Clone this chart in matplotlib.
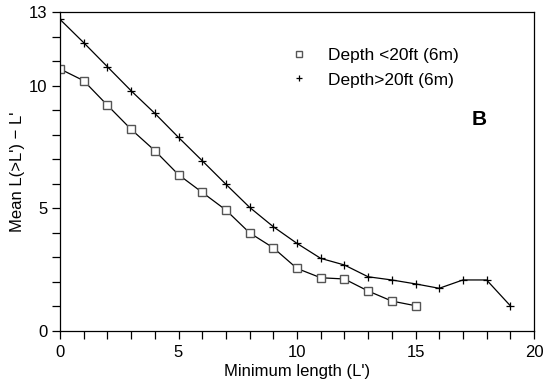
import matplotlib.pyplot as plt
import numpy as np

plt.rcParams['font.family'] = ['Liberation Sans', 'DejaVu Sans']

# data
x_shallow = [0, 1, 2, 3, 4, 5, 6, 7, 8, 9, 10, 11, 12, 13, 14, 15]
y_shallow = [10.68, 10.2, 9.2, 8.22, 7.35, 6.37, 5.65, 4.93, 4.0, 3.39,
             2.55, 2.17, 2.12, 1.63, 1.22, 1.03]
x_deep = list(range(20))
y_deep = [12.7, 11.75, 10.77, 9.79, 8.87, 7.89, 6.94, 5.98, 5.04, 4.25,
          3.57, 2.96, 2.69, 2.21, 2.08, 1.92, 1.74, 2.08, 2.08, 1.03]
labels = ['Depth <20ft (6m)', 'Depth>20ft (6m)']
xtick_labels = [0, 5, 10, 15, 20]
ytick_labels = [0, 5, 10, 13]

fig = plt.figure(figsize=(5.57, 3.81), dpi=100)
ax = fig.add_axes([60 / 557, 1 - 331 / 381, 474 / 557, 319 / 381])

ax.plot(x_shallow, y_shallow, color='k', lw=0.9, marker='s', ms=6,
        mfc='white', mec='#555555', mew=1.0, label=labels[0])
ax.plot(x_deep, y_deep, color='k', lw=0.9, marker='+', ms=6,
        mec='k', mew=0.9, label=labels[1])

ax.set_xlim(0, 20)
ax.set_ylim(0, 13)
ax.set_xticks(np.arange(0, 21, 1))
ax.set_xticklabels([str(v) if v in xtick_labels else '' for v in range(21)])
ax.set_yticks(np.arange(0, 14, 1))
ax.set_yticklabels([str(v) if v in ytick_labels else '' for v in range(14)])
ax.tick_params(direction='out', length=6, width=0.9, labelsize=12, pad=3,
               colors='k')
ax.tick_params(axis='x', pad=4)
for s in ax.spines.values():
    s.set_linewidth(0.9)

ax.set_xlabel("Minimum length (L')", fontsize=12, labelpad=3)
ax.set_ylabel("Mean L(>L') \u2212 L'", fontsize=12, labelpad=3)

leg = ax.legend(loc='upper left', bbox_to_anchor=(0.4675, 0.91), frameon=False,
                fontsize=12.5, handlelength=1.2, handletextpad=1.07,
                labelspacing=0.55, markerscale=0.8, borderaxespad=0)
for h in leg.legend_handles:
    h.set_linestyle('none')

ax.text(17.7, 8.6, 'B', fontsize=15, fontweight='bold', ha='center', va='center')

fig.savefig('out.png', dpi=100)
